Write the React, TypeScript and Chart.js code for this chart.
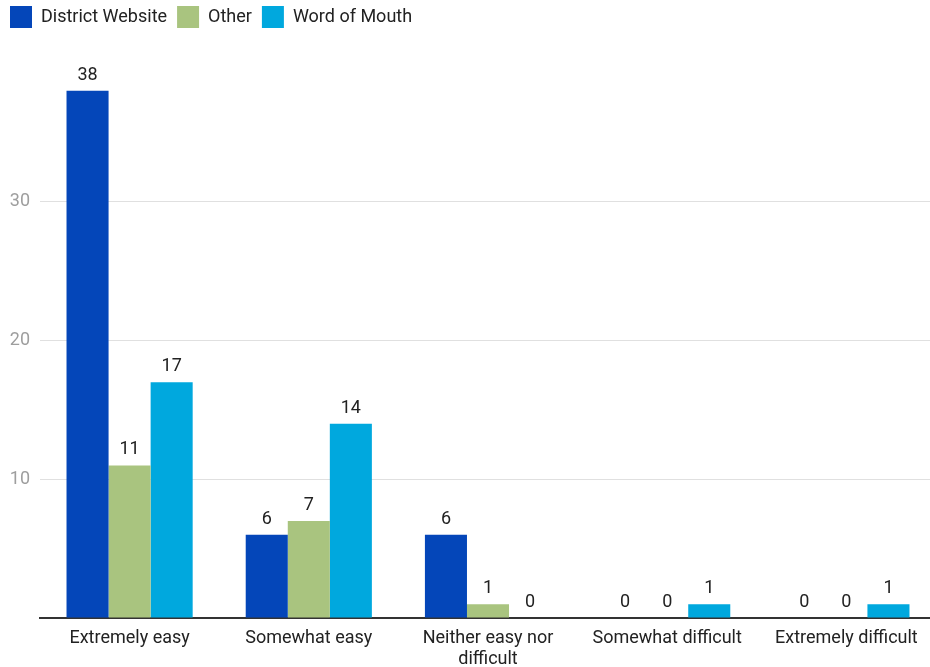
import React, { useEffect, useRef } from "react";
import { Chart, registerables } from "chart.js";

Chart.register(...registerables);

const categories: (string | string[])[] = [
  "Extremely easy",
  "Somewhat easy",
  ["Neither easy nor", "difficult"],
  "Somewhat difficult",
  "Extremely difficult",
];
const districtWebsite = [38, 6, 6, 0, 0];
const other = [11, 7, 1, 0, 0];
const wordOfMouth = [17, 14, 0, 1, 1];
const yTicks = [10, 20, 30];

const FONT = "Roboto, 'Noto Sans', sans-serif";
const LEGEND_HEIGHT = 67;

// Writes each bar's value just above it
const valueLabels = {
  id: "valueLabels",
  afterDatasetsDraw(chart: any) {
    const ctx = chart.ctx;
    ctx.save();
    ctx.font = `18px ${FONT}`;
    ctx.fillStyle = "#222";
    ctx.textAlign = "center";
    ctx.textBaseline = "alphabetic";
    chart.data.datasets.forEach((ds: any, i: number) => {
      const meta = chart.getDatasetMeta(i);
      meta.data.forEach((bar: any, j: number) => {
        ctx.fillText(String(ds.data[j]), bar.x, bar.y - 11);
      });
    });
    ctx.restore();
  },
};

// Reserves a fixed band for the legend above the plot
const legendBand = {
  id: "legendBand",
  beforeLayout(chart: any) {
    const lg = chart.legend;
    if (lg && !lg.__fixed) {
      const fit = lg.fit.bind(lg);
      lg.fit = function () {
        fit();
        this.height = LEGEND_HEIGHT;
      };
      lg.__fixed = true;
    }
  },
};

export default function App() {
  const ref = useRef<HTMLCanvasElement>(null);

  useEffect(() => {
    document.body.style.margin = "0";
    document.body.style.overflow = "hidden";
    const chart = new Chart(ref.current!, {
      type: "bar",
      data: {
        labels: categories,
        datasets: [
          { label: "District Website", data: districtWebsite, backgroundColor: "#0446b9" },
          { label: "Other", data: other, backgroundColor: "#a9c47f" },
          { label: "Word of Mouth", data: wordOfMouth, backgroundColor: "#00a8de" },
        ],
      },
      options: {
        animation: false,
        responsive: false,
        layout: { padding: 0 },
        datasets: {
          bar: { categoryPercentage: 0.704, barPercentage: 1 },
        },
        plugins: {
          legend: {
            position: "top",
            align: "start",
            labels: {
              boxWidth: 22,
              boxHeight: 22,
              padding: 10,
              color: "#222",
              font: { family: FONT, size: 18 },
            },
          },
          tooltip: { enabled: false },
        },
        scales: {
          x: {
            grid: { display: false },
            border: { color: "#333", width: 2 },
            ticks: {
              color: "#222",
              font: { family: FONT, size: 18, lineHeight: 1.15 },
              maxRotation: 0,
              autoSkip: false,
              padding: 2,
            },
            afterFit(scale: any) {
              scale.height = 49;
            },
          },
          y: {
            min: 0,
            max: 40,
            afterBuildTicks(scale: any) {
              scale.ticks = [0, ...yTicks, 40].map((v) => ({ value: v }));
            },
            grid: {
              color: (c: any) =>
                c.tick && (c.tick.value === 0 || c.tick.value === 40) ? "rgba(0,0,0,0)" : "#e0e0e0",
              lineWidth: 1,
              drawTicks: false,
            },
            border: { display: false },
            ticks: {
              color: "#9e9e9e",
              font: { family: FONT, size: 18 },
              padding: 10,
              callback: (v: any) => (yTicks.includes(Number(v)) ? String(v) : ""),
            },
            afterFit(scale: any) {
              scale.width = 40;
            },
          },
        },
      },
      plugins: [legendBand, valueLabels],
    });
    return () => chart.destroy();
  }, []);

  return (
    <canvas
      ref={ref}
      width={936}
      height={671}
      style={{ display: "block", marginTop: -4 }}
    />
  );
}
